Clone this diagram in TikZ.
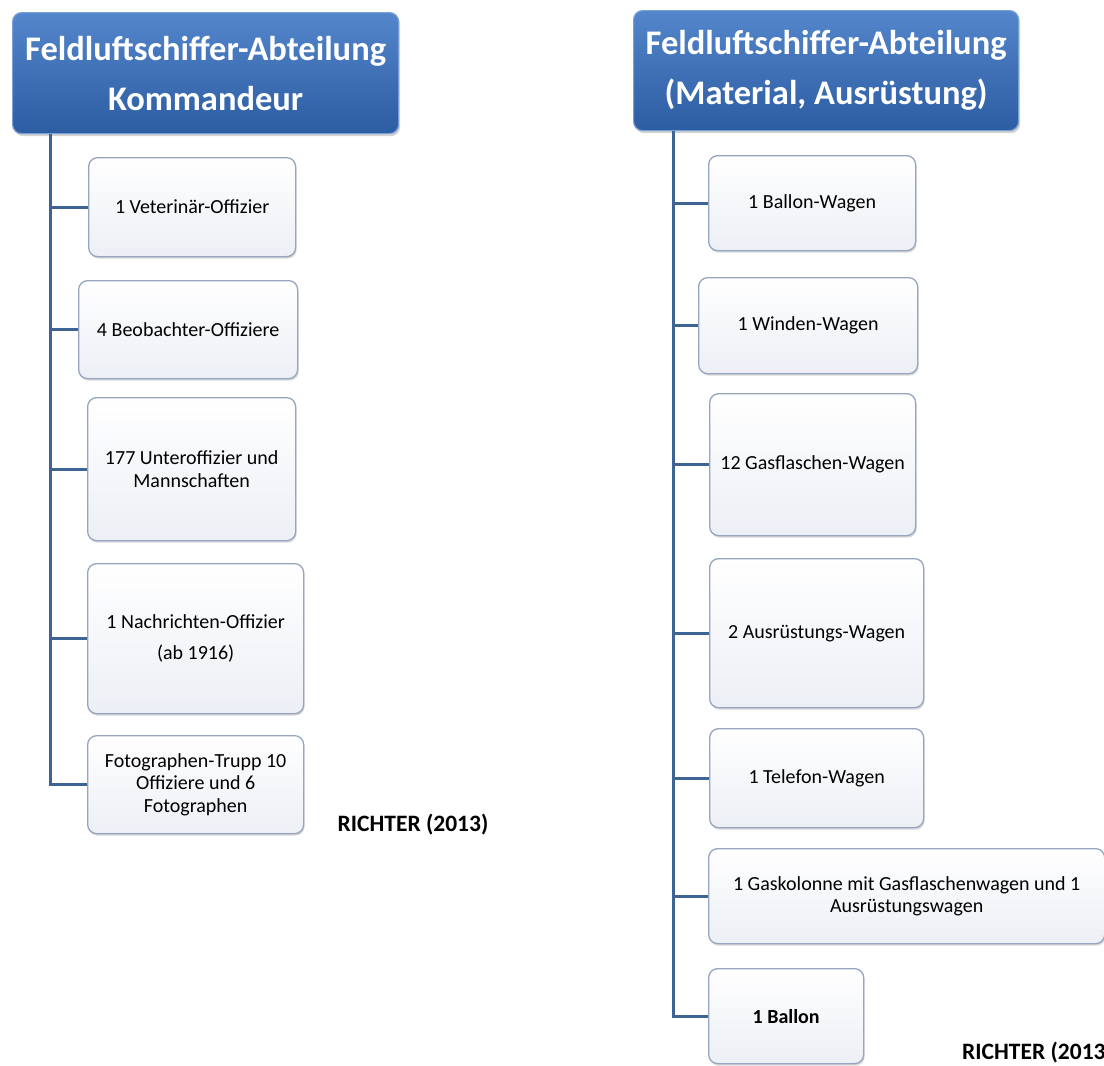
\documentclass[tikz,border=0pt]{standalone}
\usepackage{fontspec}
\setmainfont{Carlito}
\usetikzlibrary{shadows,calc}
\definecolor{spinecol}{RGB}{62,100,150}
\definecolor{boxline}{RGB}{150,165,192}
\definecolor{boxbot}{RGB}{236,239,245}
\definecolor{titletop}{RGB}{84,134,204}
\definecolor{titlebot}{RGB}{44,92,162}
\definecolor{titleline}{RGB}{120,160,215}
\tikzset{
 titlebox/.style={draw=titleline, line width=1.2pt, rounded corners=9pt,
   top color=titletop, bottom color=titlebot, text=white,
   font=\fontsize{34.5}{42}\selectfont\bfseries, align=center,
   anchor=north west, inner sep=0pt,
   drop shadow={opacity=0.35, shadow xshift=1.5pt, shadow yshift=-2.5pt}},
 childbox/.style={draw=boxline, line width=1.3pt, rounded corners=9pt,
   top color=white, bottom color=boxbot, text=black,
   font=\fontsize{20}{22.5}\selectfont, align=center,
   anchor=north west, inner sep=0pt,
   drop shadow={opacity=0.3, shadow xshift=1pt, shadow yshift=-2pt}},
 conn/.style={draw=spinecol, line width=3pt},
 source/.style={font=\fontsize{23.5}{28}\selectfont\bfseries, inner sep=0pt}
}
\begin{document}
\begin{tikzpicture}[x=1pt,y=-1pt]
\useasboundingbox (0,0) rectangle (1104,1066);
% ---------------- left tree
\node[titlebox, minimum width=386pt, minimum height=121pt] (tL) at (12,12)
  {Feldluftschiffer-Abteilung\\[8pt]Kommandeur};
\coordinate (lspine) at ($(tL.south west)+(38,0)$);
\node[childbox, minimum width=207pt, minimum height=99pt] (l1) at (88,157) {1 Veterinär-Offizier};
\node[childbox, minimum width=219pt, minimum height=98pt] (l2) at (78,280) {4 Beobachter-Offiziere};
\node[childbox, minimum width=208pt, minimum height=143pt] (l3) at (87,397) {177 Unteroffizier und\\Mannschaften};
\node[childbox, minimum width=216pt, minimum height=150pt] (l4) at (87,563) {1 Nachrichten-Offizier\\[8pt](ab 1916)};
\node[childbox, minimum width=216pt, minimum height=98pt] (l5) at (87,735) {Fotographen-Trupp 10\\Offiziere und 6\\Fotographen};
\draw[conn] (lspine) |- (l5.west);
\foreach \n in {l1,l2,l3,l4}{\draw[conn] (\n.west) -- (\n.west -| lspine);}
\node[source] (srcL) at (413,825) {RICHTER (2013)};
% ---------------- right tree
\node[titlebox, minimum width=385pt, minimum height=120pt] (tR) at (633,10)
  {Feldluftschiffer-Abteilung\\[8pt](Material, Ausrüstung)};
\coordinate (rspine) at ($(tR.south west)+(40,0)$);
\node[childbox, minimum width=207pt, minimum height=95pt] (r1) at (708,155) {1 Ballon-Wagen};
\node[childbox, minimum width=219pt, minimum height=96pt] (r2) at (698,277) {1 Winden-Wagen};
\node[childbox, minimum width=206pt, minimum height=142pt] (r3) at (709,393) {12 Gasflaschen-Wagen};
\node[childbox, minimum width=214pt, minimum height=149pt] (r4) at (709,558) {2 Ausrüstungs-Wagen};
\node[childbox, minimum width=214pt, minimum height=99pt] (r5) at (709,728) {1 Telefon-Wagen};
\node[childbox, minimum width=396pt, minimum height=95pt] (r6) at (708,848) {1 Gaskolonne mit Gasflaschenwagen und 1\\Ausrüstungswagen};
\node[childbox, minimum width=155pt, minimum height=95pt, font=\fontsize{20}{22.5}\selectfont\bfseries] (r7) at (708,968) {1 Ballon};
\draw[conn] (rspine) |- (r7.west);
\foreach \n in {r1,r2,r3,r4,r5,r6}{\draw[conn] (\n.west) -- (\n.west -| rspine);}
\node[source, anchor=west] (srcR) at (962,1053) {RICHTER (2013)};
\end{tikzpicture}
\end{document}
